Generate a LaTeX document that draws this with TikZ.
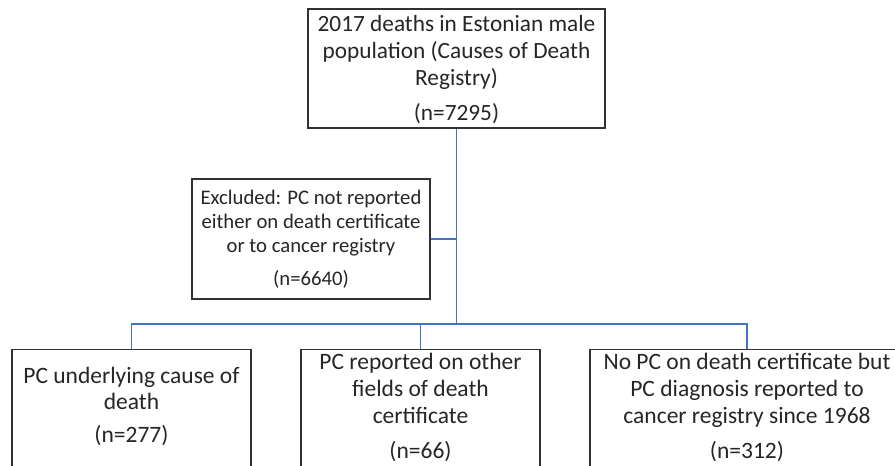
\documentclass[tikz,border=0pt]{standalone}
\usepackage{fontspec}
\setmainfont{Carlito}
\definecolor{conn}{RGB}{68,114,196}
\definecolor{boxline}{RGB}{50,50,50}
\begin{document}
\begin{tikzpicture}[x=1pt,y=1pt,
  box/.style={draw=boxline, line width=1.3pt, fill=white, inner sep=0pt},
  txt/.style={align=center, inner sep=0pt, text=black!85},
  conline/.style={draw=conn, line width=1.5pt}]
\useasboundingbox (0,0) rectangle (895,466);
% top box
\node[box, minimum width=297, minimum height=119] (top) at (456.5,397.5) {};
\node[txt, font=\fontsize{23.3}{27}\selectfont] (topt) at (456.5,396) {2017 deaths in Estonian male\\population (Causes of Death\\Registry)\\[8pt](n=7295)};
% excluded box
\node[box, minimum width=238, minimum height=120] (excl) at (311,227) {};
\node[txt, font=\fontsize{20.7}{24}\selectfont] (exclt) at (311,226.5) {Excluded: PC not reported\\either on death certificate\\or to cancer registry\\[9pt](n=6640)};
% bottom boxes
\node[box, minimum width=239, minimum height=125, anchor=north] (b1) at (131.5,117) {};
\node[txt, font=\fontsize{23.5}{26.5}\selectfont] (b1t) at (131.5,60) {PC underlying cause of\\death\\[6pt](n=277)};
\node[box, minimum width=239, minimum height=125, anchor=north] (b2) at (420.5,117) {};
\node[txt, font=\fontsize{23.5}{27}\selectfont] (b2t) at (420.5,59) {PC reported on other\\fields of death\\certificate\\[8pt](n=66)};
\node[box, minimum width=314, minimum height=125, anchor=north] (b3) at (747,117) {};
\node[txt, font=\fontsize{23.5}{27}\selectfont] (b3t) at (747,59) {No PC on death certificate but\\PC diagnosis reported to\\cancer registry since 1968\\[8pt](n=312)};
% connectors
\coordinate (junc) at (456.5,142);
\coordinate (exj) at (456.5,227);
\draw[conline] (top.south) -- (junc);
\draw[conline] (excl.east) -- (exj);
\draw[conline] (b1.north) |- (junc);
\draw[conline] (b3.north) |- (junc);
\draw[conline] (b2.north) -- (b2.north |- junc);
\end{tikzpicture}
\end{document}
